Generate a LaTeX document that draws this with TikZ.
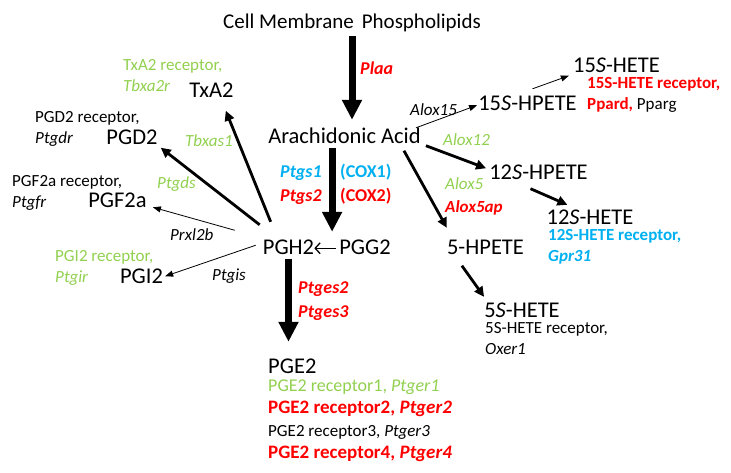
\documentclass[tikz,border=0pt]{standalone}
\usepackage{fontspec}
\setmainfont{Carlito}
\usetikzlibrary{arrows.meta,calc}
\definecolor{lgreen}{RGB}{146,208,80}
\definecolor{cred}{RGB}{255,0,0}
\definecolor{cblue}{RGB}{0,176,240}

\tikzset{
metab/.style={font=\fontsize{22.5}{27}\selectfont,anchor=base,text height=16pt,text depth=4.5pt},
recp/.style={font=\fontsize{17}{20.5}\selectfont,anchor=base west,align=left},
enzy/.style={font=\fontsize{17}{20}\selectfont\itshape,anchor=base west},
bigenz/.style={font=\fontsize{18}{22}\selectfont\bfseries\itshape,anchor=base west},
big/.style={line width=7pt,-{Triangle[length=20pt,width=19pt]}},
mid/.style={line width=2.8pt,-{Triangle[length=10pt,width=9.5pt]}},
fine/.style={line width=0.8pt,-{Triangle[length=8pt,width=6pt]}}}

\begin{document}
\begin{tikzpicture}
  [x=1pt,y=-1pt,
   every node/.style={inner sep=0pt}]
  \useasboundingbox (0,0) rectangle (731,472);
  % metabolites
  \node[metab,font=\fontsize{21}{25}\selectfont] (cmp) at (352,28) {Cell Membrane\hspace{8pt}Phospholipids};
  \node[metab] (aa) at (344.5,143) {Arachidonic Acid};
  \node[metab] (pgh) at (288.5,254) {PGH2};
  \node[metab] (pgg) at (365,254) {PGG2};
  \node[metab,anchor=base west] (pge) at (268,373) {PGE2};
  \node[metab] (txa) at (211.5,97) {TxA2};
  \node[metab] (pgd) at (132,144) {PGD2};
  \node[metab] (pgf) at (117.5,207) {PGF2a};
  \node[metab] (pgi) at (141.5,283) {PGI2};
  \node[metab] (hp15) at (527.5,110) {15\textit{S}-HPETE};
  \node[metab] (he15) at (616.5,72) {15\textit{S}-HETE};
  \node[metab] (hp12) at (538.5,179) {12\textit{S}-HPETE};
  \node[metab,text depth=0pt] (he12) at (590,224) {12\textit{S}-HETE};
  \node[metab] (hp5) at (485.5,254) {5-HPETE};
  \node[metab,text depth=0pt] (he5) at (522,317) {5\textit{S}-HETE};

  % enzymes
  \node[bigenz,text=cred] (plaa) at (360,74) {Plaa};
  \node[bigenz,text=cblue] (ptgs1) at (280,177) {Ptgs1};
  \node[bigenz,text=cblue,font=\fontsize{18}{22}\selectfont\bfseries] (cox1) at (340,177) {(COX1)};
  \node[bigenz,text=cred] (ptgs2) at (280,201) {Ptgs2};
  \node[bigenz,text=cred,font=\fontsize{18}{22}\selectfont\bfseries] (cox2) at (340,201) {(COX2)};
  \node[bigenz,text=cred] (ptges2) at (298,293) {Ptges2};
  \node[bigenz,text=cred] (ptges3) at (298,317) {Ptges3};
  \node[enzy] (alox15) at (410,115) {Alox15};
  \node[enzy,text=lgreen] (alox12) at (443,145) {Alox12};
  \node[enzy,text=lgreen] (alox5) at (445,189) {Alox5};
  \node[enzy,text=cred,font=\fontsize{17}{20}\selectfont\bfseries\itshape] (alox5ap) at (445,212) {Alox5ap};
  \node[enzy,text=lgreen] (tbxas) at (185,146) {Tbxas1};
  \node[enzy,text=lgreen] (ptgds) at (157,188) {Ptgds};
  \node[enzy] (prxl) at (170,240) {Prxl2b};
  \node[enzy] (ptgis) at (212,280) {Ptgis};

  % receptors (base = last line)
  \node[recp,text=lgreen] (txar) at (123,91) {TxA2 receptor,\\\textit{Tbxa2r}};
  \node[recp] (pgdr) at (35,143) {PGD2 receptor,\\\textit{Ptgdr}};
  \node[recp] (pgfr) at (12,207) {PGF2a receptor,\\\textit{Ptgfr}};
  \node[recp,text=lgreen] (pgir) at (55,282) {PGI2 receptor,\\\textit{Ptgir}};
  \node[recp,text=cred] (he15r) at (587,109)
    {\bfseries 15S-HETE receptor,\\\bfseries Ppard, \mdseries\color{black}Pparg};
  \node[recp,text=cblue,font=\fontsize{17}{21}\selectfont] (he12r) at (548,261)
    {\bfseries 12S-HETE receptor,\\\bfseries\itshape Gpr31};
  \node[recp,font=\fontsize{17}{21}\selectfont] (he5r) at (485,354) {5S-HETE receptor,\\\textit{Oxer1}};
  \node[recp,text=lgreen,font=\fontsize{18}{22}\selectfont] (per1) at (268,391) {PGE2 receptor1, \textit{Ptger1}};
  \node[recp,text=cred,font=\fontsize{19}{22}\selectfont\bfseries] (per2) at (268,413) {PGE2 receptor2, \textit{Ptger2}};
  \node[recp,font=\fontsize{17}{22}\selectfont] (per3) at (268,436) {PGE2 receptor3, \textit{Ptger3}};
  \node[recp,text=cred,font=\fontsize{19}{22}\selectfont\bfseries] (per4) at (268,458) {PGE2 receptor4, \textit{Ptger4}};

  % arrows
  \draw[big,shorten <=3pt,shorten >=7pt] (cmp.south) -- (cmp.south |- aa.north);
  \draw[big,shorten >=6pt] ($(aa.south -| pgg.west)+(-7,0)$) -- ($(pgg.north west)+(-7,0)$);
  \draw[line width=1.3pt,-{Straight Barb[length=5pt,width=11pt]},shorten <=3pt] (pgg.west) -- (pgh.east);
  \draw[big,shorten >=15pt] (pgh.south) -- (pgh.south |- pge.north);
  \draw[fine] ($(aa.north east)+(-5,1)$) -- ($(hp15.west)+(-1,1)$);
  \draw[fine] ($(hp15.north)+(5,-5)$) -- ($(he15.south west)+(-4,-1)$);
  \draw[mid] ($(aa.south east)+(5,-2)$) -- ($(hp12.west)+(-3,-5)$);
  \draw[mid] ($(hp12.south)+(-8,5)$) -- ($(he12.north west)+(21,-3)$);
  \draw[mid] ($(aa.south east)+(-17,3)$) -- ($(hp5.north west)+(0,-10)$);
  \draw[mid] ($(hp5.south west)+(15,7)$) -- ($(he5.north west)+(0,-4)$);
  \draw[mid] ($(pgh.north west)+(8,-16)$) -- ($(txa.south east)+(-8,9)$);
  \draw[mid] ($(pgh.north west)+(-3,-13)$) -- ($(pgd.south east)+(3,-1)$);
  \draw[fine] ($(pgh.west)+(-28,-18)$) -- ($(pgf.east)+(6,6)$);
  \draw[fine] ($(pgh.west)+(-7,-3)$) -- ($(pgi.east)+(2,-1)$);
\end{tikzpicture}
\end{document}
